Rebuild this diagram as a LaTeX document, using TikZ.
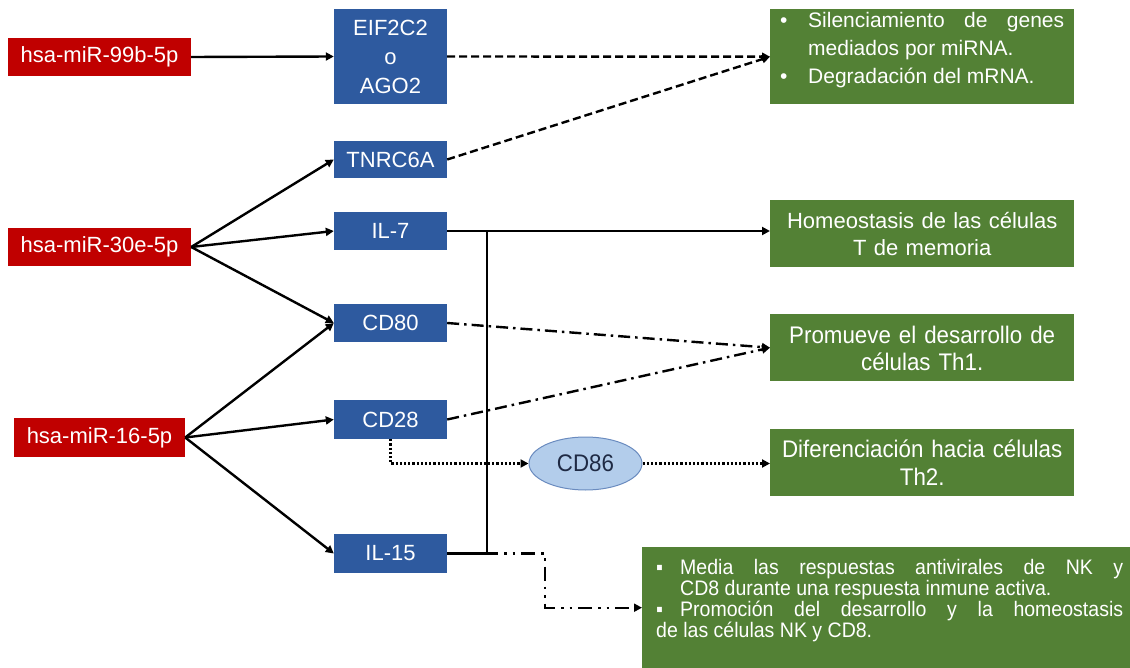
\documentclass[tikz,border=0pt]{standalone}
\usepackage{fontspec}
\setmainfont{Liberation Sans}
\newfontfamily\narrowfont[FakeStretch=0.93]{Liberation Sans}
\usepackage{xcolor}
\usepackage{tikz}
\usetikzlibrary{arrows.meta,shapes.geometric}
\definecolor{mirnared}{HTML}{C00000}
\definecolor{geneblue}{HTML}{2E5A9F}
\definecolor{effectgreen}{HTML}{538135}
\definecolor{ligandblue}{HTML}{B3CDEB}
\definecolor{ligandedge}{HTML}{6A8BBF}
\definecolor{ligandtext}{HTML}{1F2A44}
\newcommand{\hangbullet}[2]{\hangindent=#1\hangafter=1\makebox[#1][l]{#2}\ignorespaces}

\begin{document}
\begin{tikzpicture}[
  x=1pt,y=-1pt,
  mirna/.style={fill=mirnared,text=white,inner sep=0pt,minimum width=183pt,minimum height=38pt,font=\fontsize{22}{26}\selectfont},
  gene/.style={fill=geneblue,text=white,inner sep=0pt,minimum width=113pt,minimum height=38pt,align=center,font=\fontsize{22}{29}\selectfont},
  effect/.style={fill=effectgreen,text=white,anchor=north west,inner ysep=0pt,inner xsep=10pt,text width=284pt},
  link/.style={line width=2.4pt,-{Triangle[length=8pt,width=8pt]}},
  silencing/.style={link,dash pattern=on 8pt off 4pt},
  costim/.style={link,dash pattern=on 12pt off 5pt on 2.5pt off 5pt},
  dotlink/.style={link,dash pattern=on 2.2pt off 2pt},
  antiviral/.style={link,dash pattern=on 14pt off 6pt on 2.5pt off 6pt on 2.5pt off 6pt},
]
\useasboundingbox (0,0) rectangle (1130,668);

\node[mirna] (r99) at (99.5,57) {hsa-miR-99b-5p};
\node[mirna] (r30) at (99.5,247) {hsa-miR-30e-5p};
\node[mirna,minimum width=171pt,minimum height=39pt] (r16) at (99.5,437.5) {hsa-miR-16-5p};

\node[gene,minimum height=95pt] (eif) at (390.5,56.5) {EIF2C2\\o\\AGO2};
\node[gene,minimum height=37pt] (tnrc) at (390.5,159.5) {TNRC6A};
\node[gene] (il7) at (390.5,231) {IL-7};
\node[gene] (cd80) at (390.5,323) {CD80};
\node[gene,minimum height=39pt] (cd28) at (390.5,419.5) {CD28};
\node[gene,minimum height=39pt] (il15) at (390.5,553.5) {IL-15};

\node[ellipse,fill=ligandblue,draw=ligandedge,line width=1pt,inner sep=0pt,minimum width=113pt,minimum height=53pt,text=ligandtext,font=\narrowfont\fontsize{24}{28}\selectfont] (cd86) at (585.5,463.5) {CD86};

\node[effect,align=justify,text height=18pt,text depth=77pt,font=\fontsize{21}{28}\selectfont] (g1) at (770,9)
  {\hangbullet{28pt}{•}Silenciamiento de genes\linebreak mediados por miRNA.\par\hangbullet{28pt}{•}Degradación del mRNA.};
\node[effect,align=center,text height=28pt,text depth=39pt,font=\fontsize{22}{27}\selectfont] (g2) at (770,200)
  {Homeostasis de las células\\T de memoria};
\node[effect,align=center,text height=29pt,text depth=38pt,font=\narrowfont\fontsize{24}{27}\selectfont] (g3) at (770,314)
  {Promueve el desarrollo de\\células Th1.};
\node[effect,align=center,text height=28pt,text depth=39pt,font=\narrowfont\fontsize{24}{28}\selectfont] (g4) at (770,429)
  {Diferenciación hacia células\\Th2.};
\node[effect,align=justify,inner xsep=14pt,text width=467pt,text height=27pt,text depth=94pt,font=\narrowfont\fontsize{21}{21}\selectfont] (g5) at (642,547)
  {\hangbullet{24pt}{▪}Media las respuestas antivirales de NK y\linebreak CD8 durante una respuesta inmune activa.\par\hangbullet{24pt}{▪}Promoción del desarrollo y la homeostasis\linebreak de las células NK y CD8.};

\coordinate (tee) at (487,231);
\coordinate (bend) at (545,553.5);

\draw[link] (r99.east) -- (eif.west);
\draw[link] (r30.east) -- (tnrc.west);
\draw[link] (r30.east) -- (il7.west);
\draw[link] (r30.east) -- (cd80.west);
\draw[link] (r16.east) -- (cd80.west);
\draw[link] (r16.east) -- (cd28.west);
\draw[link] (r16.east) -- (il15.west);

\draw[silencing] (eif.east) -- (g1.west);
\draw[silencing] (tnrc.east) -- (g1.west);
\draw[link] (il7.east) -- (il7.east -| g2.west);
\draw[antiviral] (il15.east) -- (bend) |- (g5.west);
\draw[line width=2.4pt] (il15.east) -| (tee);
\draw[costim] (cd80.east) -- (g3.west);
\draw[costim] (cd28.east) -- (g3.west);
\draw[dotlink] (cd28.south) |- (cd86.west);
\draw[dotlink] (cd86.east) -- (cd86.east -| g4.west);
\end{tikzpicture}
\end{document}
